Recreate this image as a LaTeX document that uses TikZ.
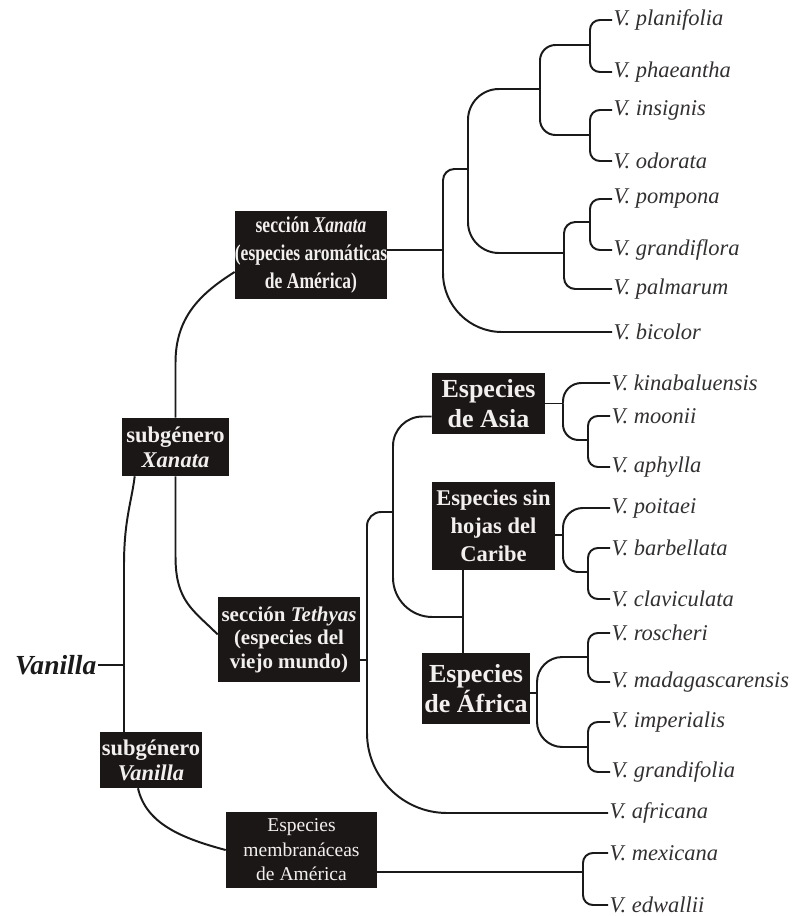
\documentclass[tikz,border=0pt]{standalone}
\usepackage{fontspec}
\setmainfont{Liberation Serif}
\newfontfamily\condfont{Liberation Serif}[FakeStretch=0.78]
\usepackage{xcolor}
\definecolor{boxfill}{HTML}{1B1717}
\definecolor{boxtext}{HTML}{F2F0EE}
\definecolor{leaftext}{HTML}{333030}
\definecolor{branchdark}{HTML}{1A1A1A}
\usetikzlibrary{calc}

\begin{document}
\begin{tikzpicture}[x=0.025cm, y=-0.025cm,
    branch/.style={draw=branchdark, line width=1.4pt},
    leaf/.style={anchor=west, inner sep=1pt, text=leaftext, font=\itshape\fontsize{16pt}{19pt}\selectfont},
    taxon/.style={fill=boxfill, text=boxtext, align=center, inner sep=0pt}]
  \useasboundingbox (0,0) rectangle (796,916);

  % root and boxes
  \node[anchor=east, inner sep=1pt, text=branchdark, font=\bfseries\itshape\fontsize{19.6pt}{22pt}\selectfont] (vanilla) at (98,665) {Vanilla};
  \node[taxon, minimum width=2.675cm, minimum height=1.45cm, font=\bfseries\fontsize{16pt}{17.8pt}\selectfont] (subX) at (175.5,447) {subgénero\\\textit{Xanata}};
  \node[taxon, minimum width=2.55cm, minimum height=1.4cm, font=\bfseries\fontsize{16pt}{17.8pt}\selectfont] (subV) at (151,760) {subgénero\\\textit{Vanilla}};
  \node[taxon, minimum width=3.8cm, minimum height=2.2cm, font=\condfont\bfseries\fontsize{16pt}{19.9pt}\selectfont] (sxan) at (311,255) {sección \textit{Xanata}\\(especies aromáticas\\de América)};
  \node[taxon, minimum width=3.55cm, minimum height=2.125cm, font=\bfseries\fontsize{14.9pt}{16.7pt}\selectfont] (teth) at (289,639.5) {sección \textit{Tethyas}\\(especies del\\viejo mundo)};
  \node[taxon, minimum width=2.825cm, minimum height=1.525cm, font=\bfseries\fontsize{18.5pt}{21.3pt}\selectfont] (asia) at (488.5,403.5) {Especies\\de Asia};
  \node[taxon, minimum width=3.075cm, minimum height=2.2cm, font=\bfseries\fontsize{16pt}{20pt}\selectfont] (carib) at (493.5,526) {Especies sin\\hojas del\\Caribe};
  \node[taxon, minimum width=2.7cm, minimum height=1.775cm, font=\bfseries\fontsize{18.5pt}{21.3pt}\selectfont] (afri) at (476,688.5) {Especies\\de África};
  \node[taxon, minimum width=3.775cm, minimum height=1.9cm, font=\fontsize{13.9pt}{17.4pt}\selectfont] (memb) at (301.5,850) {Especies\\membranáceas\\de América};

  % species
  \node[leaf] (planifolia) at (612,20) {V. planifolia};
  \node[leaf] (phaeantha) at (612,72) {V. phaeantha};
  \node[leaf] (insignis) at (612,110) {V. insignis};
  \node[leaf] (odorata) at (612,161) {V. odorata};
  \node[leaf] (pompona) at (612,199) {V. pompona};
  \node[leaf] (grandiflora) at (612,250) {V. grandiflora};
  \node[leaf] (palmarum) at (612,289) {V. palmarum};
  \node[leaf] (bicolor) at (612,332) {V. bicolor};
  \node[leaf] (kinabaluensis) at (610,383) {V. kinabaluensis};
  \node[leaf] (moonii) at (610,416) {V. moonii};
  \node[leaf] (aphylla) at (610,467) {V. aphylla};
  \node[leaf] (poitaei) at (610,508) {V. poitaei};
  \node[leaf] (barbellata) at (610,548) {V. barbellata};
  \node[leaf] (claviculata) at (610,599) {V. claviculata};
  \node[leaf] (roscheri) at (610,633) {V. roscheri};
  \node[leaf] (madagascarensis) at (610,682) {V. madagascarensis};
  \node[leaf] (imperialis) at (610,722) {V. imperialis};
  \node[leaf] (grandifolia) at (610,772) {V. grandifolia};
  \node[leaf] (africana) at (608,813) {V. africana};
  \node[leaf] (mexicana) at (608,853) {V. mexicana};
  \node[leaf] (edwallii) at (608,905) {V. edwallii};

  % joints
  \coordinate (jR) at (124,665);
  \coordinate (jA) at (590,45);
  \coordinate (jB) at (590,135);
  \coordinate (jC) at (540,89);
  \coordinate (jD) at (590,222);
  \coordinate (jE) at (564,253);
  \coordinate (jF) at (468,169);
  \coordinate (jG) at (443,250);
  \coordinate (jT) at (367,660);
  \coordinate (jAs) at (393,512);
  \coordinate (jCA) at (463,617);
  \coordinate (jK) at (563,403.5);
  \coordinate (jMA) at (588,440);
  \coordinate (jP) at (563,535);
  \coordinate (jBC) at (588,572);
  \coordinate (jAf) at (537,693);
  \coordinate (jRM) at (588,657);
  \coordinate (jIG) at (588,747);
  \coordinate (jM) at (583,872);

  % genus and subgenera
  \draw[branch] (vanilla.east) -- (jR);
  \draw[branch] (jR) -- ++(0,-100) .. controls +(0,-45) and +(-3,25) .. ($(subX.south west)+(13,0)$);
  \draw[branch] (jR) -- (jR |- subV.north);
  \draw[branch] (subX.north) -- ++(0,-55) .. controls +(0,-45) and +(-35,22) .. ($(sxan.west)+(0,17)$);
  \draw[branch] (subX.south) -- ++(0,80) .. controls +(0,45) and +(-25,-25) .. ($(teth.west)+(0,-5)$);
  \draw[branch] ($(subV.south)+(-13,0)$) .. controls +(8,35) and +(-45,-12) .. (memb.west);

  % sección Xanata
  \draw[branch] (jG -| sxan.east) -- (jG);
  \draw[branch, rounded corners=8pt] (jG) |- (jF);
  \draw[branch, rounded corners=42pt] (jG) |- (bicolor.west);
  \draw[branch, rounded corners=22pt] (jF) |- (jC) (jF) |- (jE);
  \draw[branch, rounded corners=11pt] (jC) |- (jA) (jC) |- (jB);
  \draw[branch, rounded corners=7pt] (jA) |- (planifolia.west) (jA) |- (phaeantha.west);
  \draw[branch, rounded corners=7pt] (jB) |- (insignis.west) (jB) |- (odorata.west);
  \draw[branch, rounded corners=8pt] (jE) |- (jD) (jE) |- (palmarum.west);
  \draw[branch, rounded corners=7pt] (jD) |- (pompona.west) (jD) |- (grandiflora.west);

  % sección Tethyas
  \draw[branch] (jT -| teth.east) -- (jT);
  \draw[branch, rounded corners=10pt] (jT) |- (jAs);
  \draw[branch, rounded corners=57pt] (jT) |- (africana.west);
  \draw[branch, rounded corners=21pt] (jAs) |- ($(asia.west)+(0,13)$);
  \draw[branch, rounded corners=28pt] (jAs) |- (jCA);
  \draw[branch] (carib.south -| jCA) -- (afri.north -| jCA);

  \draw[branch] (asia.east) -- (jK);
  \draw[branch, rounded corners=13pt] (jK) |- (kinabaluensis.west);
  \draw[branch, rounded corners=11pt] (jK) |- (jMA);
  \draw[branch, rounded corners=7pt] (jMA) |- (moonii.west) (jMA) |- (aphylla.west);

  \draw[branch] (jP -| carib.east) -- (jP);
  \draw[branch, rounded corners=14pt] (jP) |- (poitaei.west);
  \draw[branch, rounded corners=11pt] (jP) |- (jBC);
  \draw[branch, rounded corners=7pt] (jBC) |- (barbellata.west) (jBC) |- (claviculata.west);

  \draw[branch] (jAf -| afri.east) -- (jAf);
  \draw[branch, rounded corners=18pt] (jAf) |- (jRM) (jAf) |- (jIG);
  \draw[branch, rounded corners=7pt] (jRM) |- (roscheri.west) (jRM) |- (madagascarensis.west);
  \draw[branch, rounded corners=7pt] (jIG) |- (imperialis.west) (jIG) |- (grandifolia.west);

  % especies membranáceas
  \draw[branch] (jM -| memb.east) -- (jM);
  \draw[branch, rounded corners=7pt] (jM) |- (mexicana.west) (jM) |- (edwallii.west);
\end{tikzpicture}
\end{document}
